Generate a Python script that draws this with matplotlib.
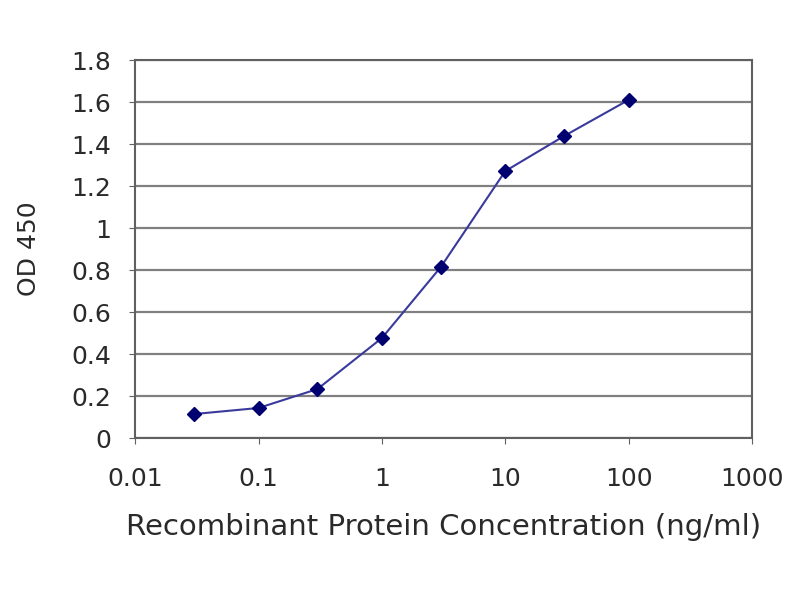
import numpy as np
import matplotlib.pyplot as plt

conc = [0.03, 0.1, 0.3, 1, 3, 10, 30, 100]
od = [0.114, 0.143, 0.233, 0.476, 0.814, 1.271, 1.438, 1.61]
xticks = [0.01, 0.1, 1, 10, 100, 1000]
xlabels = ['0.01', '0.1', '1', '10', '100', '1000']
yticks = [0, 0.2, 0.4, 0.6, 0.8, 1, 1.2, 1.4, 1.6, 1.8]
ylabels = ['0', '0.2', '0.4', '0.6', '0.8', '1', '1.2', '1.4', '1.6', '1.8']

plt.rcParams['font.family'] = ['DejaVu Sans']

fig = plt.figure(figsize=(8, 6), dpi=100)
ax = fig.add_axes([0.169, 0.27, 0.771, 0.63])

ax.plot(conc, od, color='#3a3a9c', linewidth=1.5, marker='D', markersize=7,
        markerfacecolor='#000070', markeredgecolor='#000070', zorder=3)

ax.set_xscale('log')
ax.set_xlim(0.01, 1000)
ax.set_ylim(0, 1.8)
ax.set_xticks(xticks)
ax.set_xticklabels(xlabels, fontsize=18, color='#2a2a2a')
ax.minorticks_off()
ax.set_yticks(yticks)
ax.set_yticklabels(ylabels, fontsize=18, color='#2a2a2a')
ax.yaxis.grid(True, color='#808080', linewidth=1.6)
ax.set_axisbelow(True)
for s in ax.spines.values():
    s.set_color('#606060')
    s.set_linewidth(1.5)
ax.tick_params(axis='x', length=4, color='#606060', pad=17)
ax.tick_params(axis='y', length=4, color='#606060', pad=13)

ax.set_xlabel('Recombinant Protein Concentration (ng/ml)', fontsize=21, color='#2a2a2a', labelpad=16)
ax.set_ylabel('OD 450', fontsize=18, color='#2a2a2a', labelpad=22)

plt.savefig('out.png', dpi=100)
